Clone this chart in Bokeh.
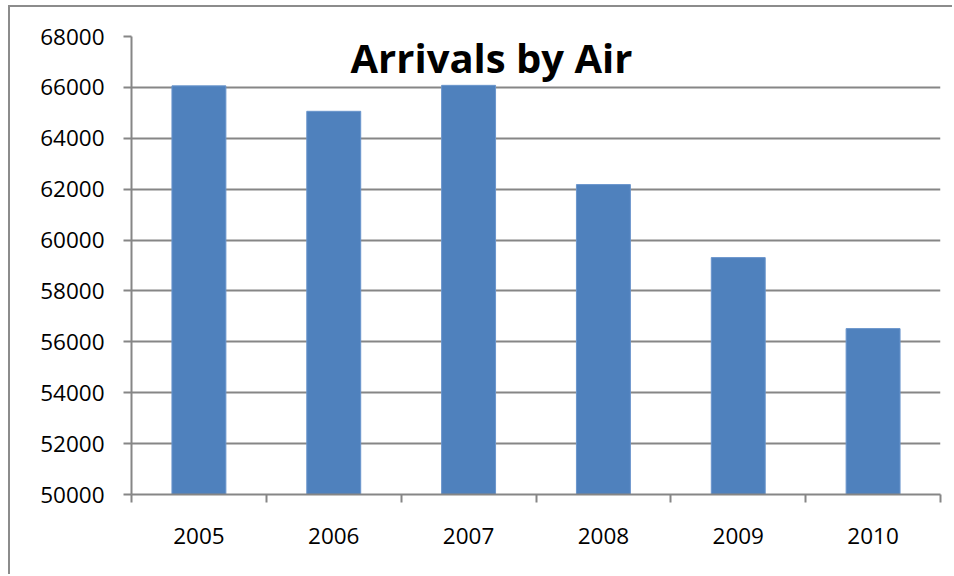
from bokeh.plotting import figure
from bokeh.models import FixedTicker, Label, ColumnDataSource, Range1d, NumeralTickFormatter
from bokeh.embed import file_html
from bokeh.resources import INLINE

# ---- data ----
years = ["2005", "2006", "2007", "2008", "2009", "2010"]
arrivals = [66060, 65060, 66080, 62180, 59310, 56520]
y_ticks = [50000, 52000, 54000, 56000, 58000, 60000, 62000, 64000, 66000, 68000]
title_text = "Arrivals by Air"

GRID = "#868686"
BAR = "#4F81BD"
FONT = "Open Sans"

n = len(years)
x_centers = [i + 0.5 for i in range(n)]
source = ColumnDataSource(dict(x=x_centers, top=arrivals, year=years))

p = figure(width=944, height=569, output_backend="svg", toolbar_location=None,
           x_range=Range1d(0, n), y_range=Range1d(y_ticks[0], y_ticks[-1]),
           min_border_left=121, min_border_right=14, min_border_top=29,
           min_border_bottom=82)
p.margin = (5, 0, 0, 8)
p.styles = {"border-top": "2px solid #8c8c8c", "border-left": "2px solid #8c8c8c"}
p.outline_line_color = None
p.background_fill_color = "white"
p.border_fill_color = "white"

p.vbar(x="x", top="top", bottom=y_ticks[0], width=0.4, source=source,
       fill_color=BAR, line_color="#6A95CC", line_width=1)

# x axis: labels at centers, tick marks at category boundaries
xa = p.xaxis[0]
xa.ticker = FixedTicker(ticks=x_centers, minor_ticks=list(range(n + 1)))
xa.major_label_overrides = {x: y for x, y in zip(x_centers, years)}
xa.major_tick_out = 0
xa.major_tick_in = 0
xa.minor_tick_out = 8
xa.minor_tick_in = 0
xa.minor_tick_line_color = GRID
xa.minor_tick_line_width = 2
xa.axis_line_color = GRID
xa.axis_line_width = 2
xa.major_label_standoff = 25
xa.major_label_text_font = FONT
xa.major_label_text_font_size = "22.5px"
xa.major_label_text_color = "black"

ya = p.yaxis[0]
ya.ticker = FixedTicker(ticks=y_ticks)
ya.formatter = NumeralTickFormatter(format="0")
ya.major_tick_out = 8
ya.major_tick_in = 0
ya.minor_tick_out = 0
ya.minor_tick_in = 0
ya.major_tick_line_color = GRID
ya.major_tick_line_width = 2
ya.axis_line_color = GRID
ya.axis_line_width = 2
ya.major_label_standoff = 19
ya.major_label_text_font = FONT
ya.major_label_text_font_size = "22.5px"
ya.major_label_text_color = "black"

p.xgrid.visible = False
p.ygrid.ticker = FixedTicker(ticks=y_ticks)
p.ygrid.grid_line_color = GRID
p.ygrid.grid_line_width = 2

title = Label(x=360, y=437, x_units="screen", y_units="screen", text=title_text,
              text_font=FONT, text_font_style="bold", text_font_size="40px",
              text_align="center", text_baseline="alphabetic", text_color="black")
p.add_layout(title)

open("out.html", "w").write(file_html(p, INLINE))
